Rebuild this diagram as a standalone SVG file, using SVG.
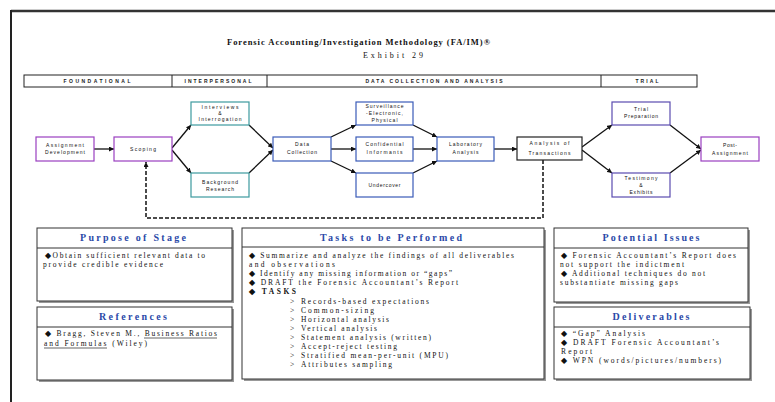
<svg xmlns="http://www.w3.org/2000/svg" width="775" height="402" viewBox="0 0 775 402">
<style>
.title{font-family:"Liberation Serif",serif;font-weight:bold;font-size:8.5px;fill:#111}
.sub{font-family:"Liberation Serif",serif;font-size:8px;fill:#111}
.phase{font-family:"Liberation Sans",sans-serif;font-weight:bold;font-size:5px;fill:#222;text-anchor:middle}
.nt{font-family:"Liberation Sans",sans-serif;font-size:5px;fill:#111;text-anchor:middle}
.node{fill:#fff;stroke-width:1.2}
.purple{stroke:#9a3fc0}
.teal{stroke:#3d9a9e}
.blue{stroke:#3a5bb8}
.black{stroke:#222}
.slate{stroke:#5a4bb0}
.conn{stroke:#111;stroke-width:1.3;fill:none}
.dash{stroke:#111;stroke-width:1.5;fill:none;stroke-dasharray:4 2}
.panel{fill:#fff;stroke:#333;stroke-width:1}
.shadow{fill:#999}
.hd{font-family:"Liberation Serif",serif;font-weight:bold;font-size:10px;fill:#2a49a8;text-anchor:middle}
.bt{font-family:"Liberation Serif",serif;font-size:7.5px;fill:#111}
.bb{font-family:"Liberation Serif",serif;font-size:7.5px;font-weight:bold;fill:#111}
</style>
<defs>
<marker id="ah" viewBox="0 0 10 10" refX="10" refY="5" markerWidth="5" markerHeight="5" markerUnits="userSpaceOnUse" orient="auto">
<path d="M0,0 L10,5 L0,10 z" fill="#111"/>
</marker>
</defs>
<rect x="0" y="0" width="775" height="402" fill="#fff"/>
<g id="frame">
<line x1="11" y1="11" x2="775" y2="11" stroke="#333" stroke-width="2.5"/>
<line x1="11" y1="10" x2="11" y2="402" stroke="#222" stroke-width="2"/>
</g>
<g id="title">
<text class="title" x="227" y="45" textLength="263" lengthAdjust="spacing">Forensic Accounting/Investigation Methodology (FA/IM)®</text>
<text class="sub" x="363" y="58" textLength="60" lengthAdjust="spacing">Exhibit 29</text>
</g>
<g id="phases">
<rect x="24" y="75" width="673" height="12" fill="#fff" stroke="#222" stroke-width="1"/>
<line x1="172" y1="75" x2="172" y2="87" stroke="#222" stroke-width="1"/>
<line x1="267" y1="75" x2="267" y2="87" stroke="#222" stroke-width="1"/>
<line x1="601" y1="75" x2="601" y2="87" stroke="#222" stroke-width="1"/>
<text class="phase" x="97" y="83" textLength="67" lengthAdjust="spacing">FOUNDATIONAL</text>
<text class="phase" x="218" y="83" textLength="67" lengthAdjust="spacing">INTERPERSONAL</text>
<text class="phase" x="434" y="83" textLength="137" lengthAdjust="spacing">DATA COLLECTION AND ANALYSIS</text>
<text class="phase" x="647" y="83" textLength="23" lengthAdjust="spacing">TRIAL</text>
</g>
<g id="connectors">
<line class="conn" x1="94" y1="149" x2="114" y2="149" marker-end="url(#ah)"/>
<line class="conn" x1="172" y1="148" x2="191" y2="125" marker-end="url(#ah)"/>
<line class="conn" x1="172" y1="150" x2="191" y2="173" marker-end="url(#ah)"/>
<line class="conn" x1="249" y1="125" x2="273" y2="148" marker-end="url(#ah)"/>
<line class="conn" x1="249" y1="173" x2="273" y2="150" marker-end="url(#ah)"/>
<line class="conn" x1="331" y1="137" x2="356" y2="125" marker-end="url(#ah)"/>
<line class="conn" x1="331" y1="149" x2="356" y2="149" marker-end="url(#ah)"/>
<line class="conn" x1="331" y1="161" x2="356" y2="173" marker-end="url(#ah)"/>
<line class="conn" x1="413" y1="125" x2="437" y2="137" marker-end="url(#ah)"/>
<line class="conn" x1="413" y1="149" x2="437" y2="149" marker-end="url(#ah)"/>
<line class="conn" x1="413" y1="173" x2="437" y2="161" marker-end="url(#ah)"/>
<line class="conn" x1="494" y1="149" x2="517" y2="149" marker-end="url(#ah)"/>
<line class="conn" x1="582" y1="147" x2="612" y2="125" marker-end="url(#ah)"/>
<line class="conn" x1="582" y1="150" x2="612" y2="173" marker-end="url(#ah)"/>
<line class="conn" x1="670" y1="125" x2="701" y2="149" marker-end="url(#ah)"/>
<line class="conn" x1="670" y1="173" x2="701" y2="150" marker-end="url(#ah)"/>
<polyline class="dash" points="543,160 543,218 146,218 146,162" marker-end="url(#ah)"/>
</g>
<g id="n-assignment">
<rect class="node purple" x="36" y="137" width="58" height="24"/>
<text class="nt" x="65" y="147" textLength="38" lengthAdjust="spacing">Assignment</text>
<text class="nt" x="65" y="154" textLength="40" lengthAdjust="spacing">Development</text>
</g>
<g id="n-scoping">
<rect class="node purple" x="114" y="137" width="58" height="24"/>
<text class="nt" x="143" y="151" textLength="26" lengthAdjust="spacing">Scoping</text>
</g>
<g id="n-interviews">
<rect class="node teal" x="191" y="102" width="58" height="23"/>
<text class="nt" x="220" y="109" textLength="37" lengthAdjust="spacing">Interviews</text>
<text class="nt" x="220" y="115">&amp;</text>
<text class="nt" x="220" y="121" textLength="43" lengthAdjust="spacing">Interrogation</text>
</g>
<g id="n-background">
<rect class="node teal" x="191" y="173" width="58" height="24"/>
<text class="nt" x="220" y="184" textLength="36" lengthAdjust="spacing">Background</text>
<text class="nt" x="220" y="191" textLength="28" lengthAdjust="spacing">Research</text>
</g>
<g id="n-datacollection">
<rect class="node blue" x="273" y="137" width="58" height="24"/>
<text class="nt" x="302" y="146" textLength="14" lengthAdjust="spacing">Data</text>
<text class="nt" x="302" y="154" textLength="30" lengthAdjust="spacing">Collection</text>
</g>
<g id="n-surveillance">
<rect class="node blue" x="356" y="102" width="57" height="23"/>
<text class="nt" x="384.5" y="108" textLength="38" lengthAdjust="spacing">Surveillance</text>
<text class="nt" x="384.5" y="115" textLength="37" lengthAdjust="spacing">-Electronic,</text>
<text class="nt" x="384.5" y="122" textLength="26" lengthAdjust="spacing">Physical</text>
</g>
<g id="n-confidential">
<rect class="node blue" x="356" y="137" width="57" height="24"/>
<text class="nt" x="384.5" y="146" textLength="38" lengthAdjust="spacing">Confidential</text>
<text class="nt" x="384.5" y="154" textLength="36" lengthAdjust="spacing">Informants</text>
</g>
<g id="n-undercover">
<rect class="node blue" x="356" y="173" width="57" height="24"/>
<text class="nt" x="384.5" y="187" textLength="32" lengthAdjust="spacing">Undercover</text>
</g>
<g id="n-laboratory">
<rect class="node blue" x="437" y="137" width="57" height="24"/>
<text class="nt" x="465.5" y="146" textLength="33" lengthAdjust="spacing">Laboratory</text>
<text class="nt" x="465.5" y="154" textLength="26" lengthAdjust="spacing">Analysis</text>
</g>
<g id="n-transactions">
<rect class="node black" x="517" y="137" width="65" height="23"/>
<text class="nt" x="549.5" y="145" textLength="40" lengthAdjust="spacing">Analysis of</text>
<text class="nt" x="549.5" y="155" textLength="42" lengthAdjust="spacing">Transactions</text>
</g>
<g id="n-trialprep">
<rect class="node slate" x="612" y="102" width="58" height="23"/>
<text class="nt" x="641" y="111" textLength="14" lengthAdjust="spacing">Trial</text>
<text class="nt" x="641" y="118" textLength="34" lengthAdjust="spacing">Preparation</text>
</g>
<g id="n-testimony">
<rect class="node slate" x="612" y="173" width="58" height="24"/>
<text class="nt" x="641" y="180" textLength="33" lengthAdjust="spacing">Testimony</text>
<text class="nt" x="641" y="187">&amp;</text>
<text class="nt" x="641" y="194" textLength="23" lengthAdjust="spacing">Exhibits</text>
</g>
<g id="n-post">
<rect class="node purple" x="701" y="137" width="58" height="24"/>
<text class="nt" x="730" y="147" textLength="14" lengthAdjust="spacing">Post-</text>
<text class="nt" x="730" y="155" textLength="36" lengthAdjust="spacing">Assignment</text>
</g>
<g id="p-purpose">
<rect class="shadow" x="39" y="230" width="195" height="73"/>
<rect class="panel" x="37" y="228" width="195" height="73"/>
<line x1="37" y1="248" x2="232" y2="248" stroke="#333" stroke-width="1"/>
<text class="hd" x="133" y="241" textLength="106" lengthAdjust="spacing">Purpose of Stage</text>
<text class="bt" x="45" y="258" textLength="160" lengthAdjust="spacing">◆Obtain sufficient relevant data to</text>
<text class="bt" x="43" y="267" textLength="120" lengthAdjust="spacing">provide credible evidence</text>
</g>
<g id="p-references">
<rect class="shadow" x="39" y="309" width="195" height="73"/>
<rect class="panel" x="37" y="307" width="195" height="73"/>
<line x1="37" y1="327" x2="232" y2="327" stroke="#333" stroke-width="1"/>
<text class="hd" x="133" y="320" textLength="68" lengthAdjust="spacing">References</text>
<text class="bt" x="45" y="336" textLength="172" lengthAdjust="spacing">◆ Bragg, Steven M., Business Ratios</text>
<text class="bt" x="44" y="346" textLength="103" lengthAdjust="spacing">and Formulas (Wiley)</text>
<line x1="144" y1="338" x2="217" y2="338" stroke="#222" stroke-width="0.7"/>
<line x1="44" y1="348" x2="107" y2="348" stroke="#222" stroke-width="0.7"/>
</g>
<g id="p-tasks">
<rect class="shadow" x="244" y="230" width="302" height="151"/>
<rect class="panel" x="242" y="228" width="302" height="151"/>
<line x1="242" y1="247" x2="544" y2="247" stroke="#333" stroke-width="1"/>
<text class="hd" x="391" y="241" textLength="142" lengthAdjust="spacing">Tasks to be Performed</text>
<text class="bt" x="249" y="258" textLength="265" lengthAdjust="spacing">◆ Summarize and analyze the findings of all deliverables</text>
<text class="bt" x="249" y="267" textLength="86" lengthAdjust="spacing">and observations</text>
<text class="bt" x="249" y="276" textLength="203" lengthAdjust="spacing">◆ Identify any missing information or “gaps”</text>
<text class="bt" x="249" y="285" textLength="209" lengthAdjust="spacing">◆ DRAFT the Forensic Accountant’s Report</text>
<text class="bb" x="249" y="294" textLength="47" lengthAdjust="spacing">◆ TASKS</text>
<g class="bt">
<text x="290" y="304">&gt;</text><text x="301" y="304" textLength="128" lengthAdjust="spacing">Records-based expectations</text>
<text x="290" y="313">&gt;</text><text x="301" y="313" textLength="73" lengthAdjust="spacing">Common-sizing</text>
<text x="290" y="322">&gt;</text><text x="301" y="322" textLength="88" lengthAdjust="spacing">Horizontal analysis</text>
<text x="290" y="331">&gt;</text><text x="301" y="331" textLength="76" lengthAdjust="spacing">Vertical analysis</text>
<text x="290" y="340">&gt;</text><text x="301" y="340" textLength="130" lengthAdjust="spacing">Statement analysis (written)</text>
<text x="290" y="349">&gt;</text><text x="301" y="349" textLength="96" lengthAdjust="spacing">Accept-reject testing</text>
<text x="290" y="358">&gt;</text><text x="301" y="358" textLength="147" lengthAdjust="spacing">Stratified mean-per-unit (MPU)</text>
<text x="290" y="367">&gt;</text><text x="301" y="367" textLength="91" lengthAdjust="spacing">Attributes sampling</text>
</g>
</g>
<g id="p-issues">
<rect class="shadow" x="556" y="230" width="194" height="74"/>
<rect class="panel" x="554" y="228" width="194" height="74"/>
<line x1="554" y1="248" x2="748" y2="248" stroke="#333" stroke-width="1"/>
<text class="hd" x="651" y="241" textLength="97" lengthAdjust="spacing">Potential Issues</text>
<text class="bt" x="561" y="258" textLength="175" lengthAdjust="spacing">◆ Forensic Accountant’s Report does</text>
<text class="bt" x="560" y="267" textLength="124" lengthAdjust="spacing">not support the indictment</text>
<text class="bt" x="561" y="276" textLength="144" lengthAdjust="spacing">◆ Additional techniques do not</text>
<text class="bt" x="560" y="285" textLength="118" lengthAdjust="spacing">substantiate missing gaps</text>
</g>
<g id="p-deliverables">
<rect class="shadow" x="556" y="309" width="196" height="72"/>
<rect class="panel" x="554" y="307" width="196" height="72"/>
<line x1="554" y1="327" x2="750" y2="327" stroke="#333" stroke-width="1"/>
<text class="hd" x="651" y="320" textLength="77" lengthAdjust="spacing">Deliverables</text>
<text class="bt" x="561" y="336" textLength="84" lengthAdjust="spacing">◆ “Gap” Analysis</text>
<text class="bt" x="561" y="345" textLength="158" lengthAdjust="spacing">◆ DRAFT Forensic Accountant’s</text>
<text class="bt" x="561" y="354" textLength="31" lengthAdjust="spacing">Report</text>
<text class="bt" x="561" y="363" textLength="160" lengthAdjust="spacing">◆ WPN (words/pictures/numbers)</text>
</g>
</svg>
